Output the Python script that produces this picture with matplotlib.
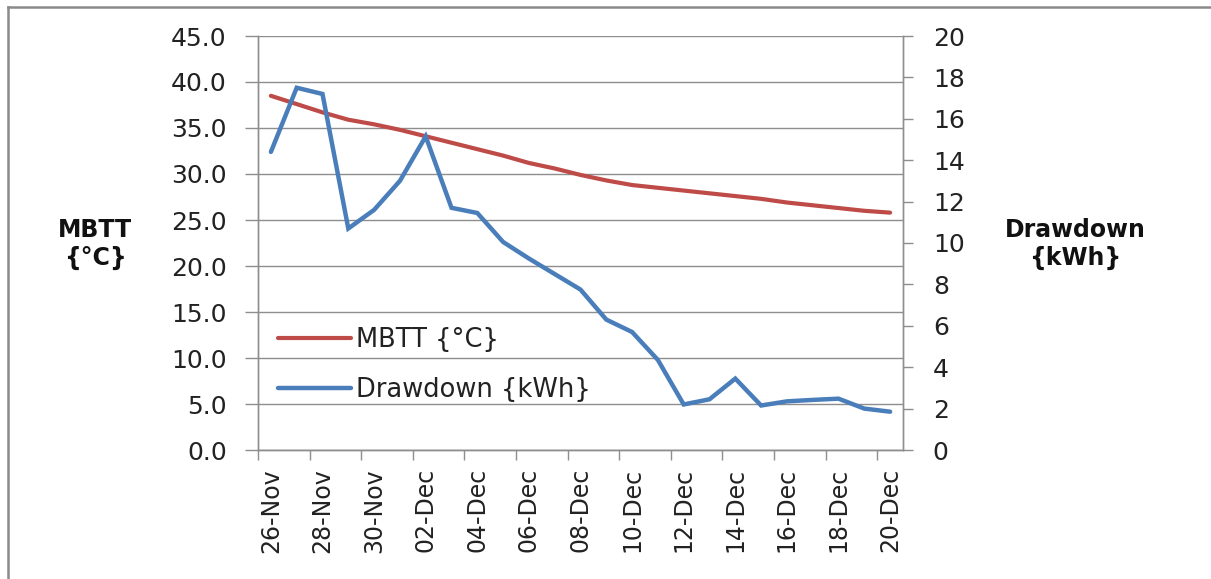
import matplotlib
matplotlib.use("Agg")
import matplotlib.pyplot as plt
from matplotlib.lines import Line2D

dates = ["26-Nov", "27-Nov", "28-Nov", "29-Nov", "30-Nov", "01-Dec", "02-Dec",
         "03-Dec", "04-Dec", "05-Dec", "06-Dec", "07-Dec", "08-Dec", "09-Dec",
         "10-Dec", "11-Dec", "12-Dec", "13-Dec", "14-Dec", "15-Dec", "16-Dec",
         "17-Dec", "18-Dec", "19-Dec", "20-Dec"]
mbtt = [38.5, 37.6, 36.7, 35.9, 35.4, 34.8, 34.1, 33.4, 32.7, 32.0, 31.2, 30.6,
        29.9, 29.3, 28.8, 28.5, 28.2, 27.9, 27.6, 27.3, 26.9, 26.6, 26.3, 26.0, 25.8]
drawdown = [14.4, 17.5, 17.2, 10.7, 11.6, 13.0, 15.15, 11.7, 11.45, 10.05, 9.25,
            8.5, 7.75, 6.3, 5.7, 4.35, 2.2, 2.45, 3.45, 2.15, 2.35, 2.42, 2.48,
            2.0, 1.85]
left_ticks = [0, 5, 10, 15, 20, 25, 30, 35, 40, 45]
right_ticks = [0, 2, 4, 6, 8, 10, 12, 14, 16, 18, 20]

plt.rcParams["font.family"] = ["DejaVu Sans"]
FS = 17
FS_Y = 18
FS_LEG = 18.5
RED = "#BE4B48"
BLUE = "#4A7EBB"
GRID = "#8E8E8E"
TXT = "#222222"

W, H = 1211, 579
fig = plt.figure(figsize=(W / 100, H / 100), dpi=100)
fig.patch.set_facecolor("white")

x0, x1, ytop, ybot = 258, 903, 36, 450
ax = fig.add_axes([x0 / W, 1 - ybot / H, (x1 - x0) / W, (ybot - ytop) / H])
ax2 = ax.twinx()

n = len(dates)
xs = list(range(n))

ax.plot(xs, mbtt, color=RED, lw=3.0, solid_capstyle="round", label="MBTT {°C}", zorder=3)
ax2.plot(xs, drawdown, color=BLUE, lw=3.2, solid_capstyle="round",
         solid_joinstyle="miter", label="Drawdown {kWh}", zorder=3)

ax.set_xlim(-0.5, n - 0.5)
ax.set_ylim(0, 45)
ax2.set_ylim(0, 20)

# left axis
ax.set_yticks(left_ticks)
ax.set_yticklabels([f"{v:.1f}" for v in left_ticks])
ax.tick_params(axis="y", direction="out", length=9.5, width=1.0, color=GRID,
               labelsize=FS_Y, labelcolor=TXT, pad=13)
ax.yaxis.grid(True, color=GRID, lw=1.0)
ax.set_axisbelow(True)

# x axis: tick marks between categories every 2, labels on every 2nd category
ax.set_xticks([k - 0.5 for k in range(0, n, 2)])
ax.set_xticklabels([])
ax.set_xticks(xs[::2], minor=True)
ax.set_xticklabels(dates[::2], minor=True, rotation=90)
ax.tick_params(axis="x", which="major", direction="out", length=7.5, width=1.0, color=GRID)
ax.tick_params(axis="x", which="minor", length=0, labelsize=FS, labelcolor=TXT, pad=13)

# right axis
ax2.set_yticks(right_ticks)
ax2.set_yticklabels([str(v) for v in right_ticks])
ax2.tick_params(axis="y", direction="out", length=7.5, width=1.0, color=GRID,
                labelsize=FS_Y, labelcolor=TXT, pad=14)

for a in (ax, ax2):
    a.spines["top"].set_visible(False)
    for s in ("left", "right", "bottom"):
        a.spines[s].set_color(GRID)
        a.spines[s].set_linewidth(1.0)
ax2.patch.set_visible(False)

# legend
h1, l1 = ax.get_legend_handles_labels()
h2, l2 = ax2.get_legend_handles_labels()
leg = ax2.legend(h1 + h2, l1 + l2, loc="upper left",
                 bbox_to_anchor=(278 / W, 1 - 327 / H), bbox_transform=fig.transFigure,
                 frameon=False, fontsize=FS_LEG, handlelength=2.85, handletextpad=0.2,
                 labelspacing=0.95, borderpad=0, borderaxespad=0)
for t in leg.get_texts():
    t.set_color(TXT)

# axis titles
fig.text(95 / W, 1 - 244 / H, "MBTT\n{°C}", ha="center", va="center",
         fontsize=FS, fontweight="bold", color="#111111", linespacing=1.2)
fig.text(1075 / W, 1 - 244 / H, "Drawdown\n{kWh}", ha="center", va="center",
         fontsize=FS, fontweight="bold", color="#111111", linespacing=1.2)

# chart border (top and left visible)
fig.add_artist(Line2D([7.5 / W, 1.0], [1 - 6.5 / H, 1 - 6.5 / H],
                      transform=fig.transFigure, color="#8A8A8A", lw=1.8))
fig.add_artist(Line2D([7.5 / W, 7.5 / W], [0.0, 1 - 6.5 / H],
                      transform=fig.transFigure, color="#8A8A8A", lw=1.8))

fig.savefig("out.png", dpi=100, facecolor="white")
